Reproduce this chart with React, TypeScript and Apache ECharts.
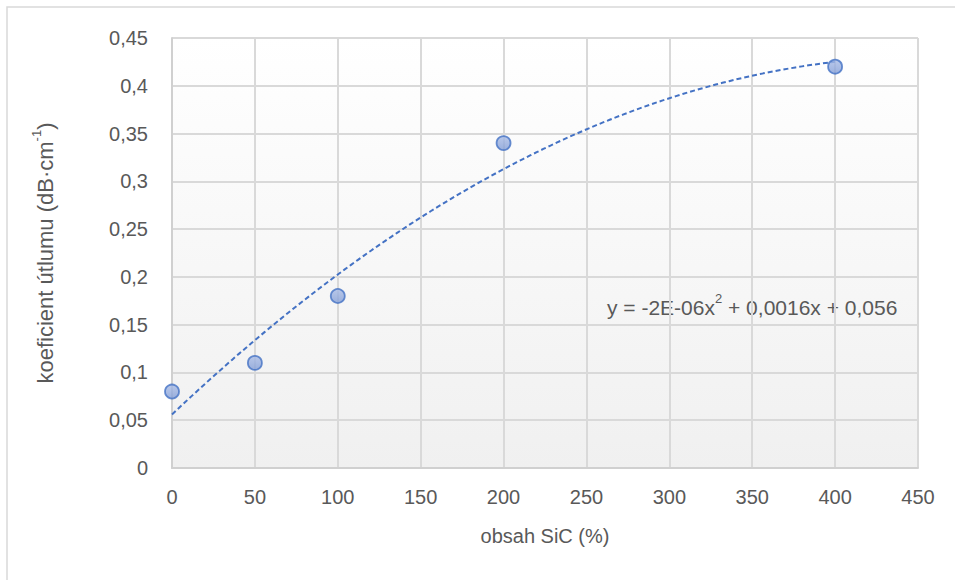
import React, { useEffect, useRef } from "react";
import * as echarts from "echarts";

const xValues = [0, 50, 100, 200, 400];
const yValues = [0.08, 0.11, 0.18, 0.34, 0.42];
const xTicks = [0, 50, 100, 150, 200, 250, 300, 350, 400, 450];
const yTicks = [0, 0.05, 0.1, 0.15, 0.2, 0.25, 0.3, 0.35, 0.4, 0.45];
const xTitle = "obsah SiC (%)";
const yTitleParts = ["koeficient útlumu (dB·cm", "-1", ")"];
const equationParts = ["y = -2E-06x", "2", " + 0,0016x + 0,056"];

// least-squares quadratic fit (as the spreadsheet trendline does)
function quadFit(xs: number[], ys: number[]) {
  const n = xs.length;
  const s = [0, 0, 0, 0, 0];
  const t = [0, 0, 0];
  for (let i = 0; i < n; i++) {
    const x = xs[i];
    for (let k = 0; k < 5; k++) s[k] += Math.pow(x, k);
    for (let k = 0; k < 3; k++) t[k] += ys[i] * Math.pow(x, k);
  }
  const A = [
    [s[0], s[1], s[2], t[0]],
    [s[1], s[2], s[3], t[1]],
    [s[2], s[3], s[4], t[2]],
  ];
  for (let i = 0; i < 3; i++) {
    let p = i;
    for (let r = i + 1; r < 3; r++) if (Math.abs(A[r][i]) > Math.abs(A[p][i])) p = r;
    [A[i], A[p]] = [A[p], A[i]];
    for (let r = 0; r < 3; r++) {
      if (r === i) continue;
      const f = A[r][i] / A[i][i];
      for (let c = i; c < 4; c++) A[r][c] -= f * A[i][c];
    }
  }
  return [A[0][3] / A[0][0], A[1][3] / A[1][1], A[2][3] / A[2][2]];
}

const fmt = (v: number) => String(Math.round(v * 100) / 100).replace(".", ",");

export default function App() {
  const ref = useRef<HTMLDivElement>(null);
  useEffect(() => {
    document.body.style.margin = "0";
    const chart = echarts.init(ref.current!, undefined, { renderer: "svg" });
    const [c0, c1, c2] = quadFit(xValues, yValues);
    const trend: number[][] = [];
    const xMin = xValues[0];
    const xMax = xValues[xValues.length - 1];
    for (let i = 0; i <= 100; i++) {
      const x = xMin + ((xMax - xMin) * i) / 100;
      trend.push([x, c0 + c1 * x + c2 * x * x]);
    }
    const font = "'Liberation Sans', 'Noto Sans', sans-serif";
    const grey = "#595959";
    chart.setOption({
      animation: false,
      textStyle: { fontFamily: font },
      grid: { left: 172, right: 37, top: 38, bottom: 112, show: true, borderWidth: 0,
        backgroundColor: new echarts.graphic.LinearGradient(0, 0, 0, 1, [
          { offset: 0, color: "#ffffff" },
          { offset: 1, color: "#f0f0f0" },
        ]) },
      xAxis: {
        type: "value", min: 0, max: xTicks[xTicks.length - 1], interval: 50,
        name: xTitle, nameLocation: "middle", nameGap: 58,
        nameTextStyle: { fontSize: 20, color: grey, fontFamily: font },
        axisLine: { show: true, lineStyle: { color: "#d0d0d0", width: 2 } },
        axisTick: { show: false },
        axisLabel: { fontSize: 20, color: grey, margin: 19, fontFamily: font },
        splitLine: { show: true, lineStyle: { color: "#d9d9d9", width: 2 } },
      },
      yAxis: {
        type: "value", min: 0, max: yTicks[yTicks.length - 1], interval: 0.05,
        name: `{a|${yTitleParts[0]}}{s|${yTitleParts[1]}}{a|${yTitleParts[2]}}`,
        nameLocation: "middle", nameGap: 116, nameRotate: 90,
        nameTextStyle: {
          fontSize: 22, color: grey, fontFamily: font,
          rich: {
            a: { fontSize: 22, color: grey, fontFamily: font, verticalAlign: "bottom", lineHeight: 26 },
            s: { fontSize: 13, color: grey, fontFamily: font, verticalAlign: "top", lineHeight: 26, padding: [0, 0, 6, 0] },
          },
        },
        axisLine: { show: true, lineStyle: { color: "#d0d0d0", width: 2 } },
        axisTick: { show: false },
        axisLabel: { fontSize: 20, color: grey, margin: 24, formatter: (v: number) => fmt(v), fontFamily: font },
        splitLine: { show: true, lineStyle: { color: "#d9d9d9", width: 2 } },
      },
      series: [
        {
          type: "line", data: trend, showSymbol: false, symbol: "none", smooth: false,
          lineStyle: { color: "#4472c4", width: 2, type: [5, 3] }, z: 2, silent: true,
        },
        {
          type: "scatter", data: xValues.map((x, i) => [x, yValues[i]]), symbolSize: 14,
          itemStyle: {
            color: new echarts.graphic.LinearGradient(0, 0, 0, 1, [
              { offset: 0, color: "#a9bce6" },
              { offset: 1, color: "#829dd6" },
            ]),
            borderColor: "#4472c4", borderWidth: 1.8,
          }, z: 3,
        },
      ],
      graphic: [
        { type: "rect", shape: { x: 7, y: 7, width: 1000, height: 700 }, style: { fill: "none", stroke: "#d9d9d9", lineWidth: 1.5 }, silent: true },
        {
          type: "text", left: 607, top: 292,
          style: {
            text: `{a|${equationParts[0]}}{s|${equationParts[1]}}{a|${equationParts[2]}}`,
            rich: {
              a: { fontSize: 21, fill: grey, fontFamily: font, verticalAlign: "bottom", lineHeight: 26 },
              s: { fontSize: 13, fill: grey, fontFamily: font, verticalAlign: "top", lineHeight: 26, padding: [0, 0, 6, 0] },
            },
          },
        },
      ],
    });
    return () => chart.dispose();
  }, []);
  return <div ref={ref} style={{ width: 955, height: 580 }} />;
}
